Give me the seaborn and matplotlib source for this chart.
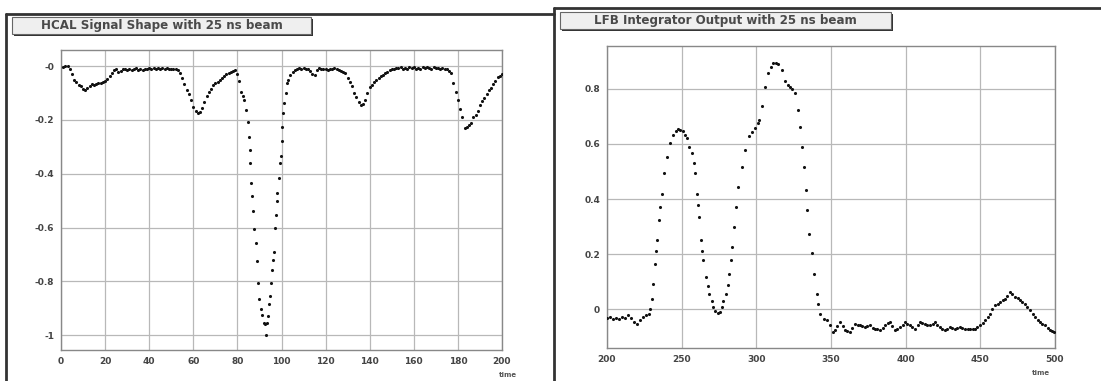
import matplotlib
matplotlib.use('Agg')
import matplotlib.pyplot as plt
import seaborn as sns
import pandas as pd
from matplotlib.patches import Rectangle
from matplotlib.lines import Line2D
from matplotlib.ticker import AutoMinorLocator, FixedLocator, FixedFormatter

# HCAL signal shape (left panel)
hcal_t = [1, 2, 3, 4, 5, 6, 7, 8, 9, 10, 11, 12, 13, 14, 15, 16, 17, 18, 19, 20,
          21, 22, 23, 24, 25, 26, 27, 28, 29, 30, 31, 32, 33, 34, 35, 36, 37, 38, 39, 40,
          41, 42, 43, 44, 45, 46, 47, 48, 49, 50, 51, 52, 53, 54, 55, 56, 57, 58, 59, 60,
          61, 62, 63, 64, 65, 66, 67, 68, 69, 70, 71, 72, 73, 74, 75, 76, 77, 78, 79, 80,
          80.8, 81.6, 82.4, 83.1, 83.7, 84.7, 85.3, 85.6, 85.9, 86.2, 86.8, 87.2, 87.7, 88.3,
          88.7, 89.2, 89.8, 90.7, 91.3, 92.2, 92.6, 92.8, 93.4, 94.0, 94.5, 94.8, 95.2, 95.8,
          96.2, 96.7, 96.9, 97.3, 97.8, 98.1, 98.9, 99.3, 99.6, 100.1, 100.4, 100.8, 101.2,
          101.9, 102.3, 102.8, 103.9, 105, 106, 107, 108, 109, 110, 111, 112, 113, 114, 115,
          116, 117, 118, 119, 120, 121, 122, 123, 124, 125, 126, 127, 128, 129, 130, 131, 132,
          133, 134, 135, 136, 137, 138, 139, 140, 141, 142, 143, 144, 145, 146, 147, 148, 149,
          150, 151, 152, 153, 154, 155, 156, 157, 158, 159, 160, 161, 162, 163, 164, 165, 166,
          167, 168, 169, 170, 171, 172, 173, 174, 175, 176, 177, 178, 179, 180, 181, 182, 183,
          184, 185, 186, 187, 188, 189, 190, 191, 192, 193, 194, 195, 196, 197, 198, 199, 200]
hcal_v = [-0.004, 0.000, 0.002, -0.010, -0.030, -0.050, -0.060, -0.070, -0.075, -0.085,
          -0.088, -0.080, -0.072, -0.068, -0.070, -0.066, -0.064, -0.062, -0.058, -0.055,
          -0.046, -0.035, -0.025, -0.015, -0.012, -0.020, -0.018, -0.010, -0.012, -0.016,
          -0.010, -0.014, -0.012, -0.008, -0.013, -0.010, -0.014, -0.009, -0.011, -0.006,
          -0.010, -0.008, -0.012, -0.007, -0.010, -0.006, -0.012, -0.008, -0.011, -0.009,
          -0.012, -0.010, -0.015, -0.025, -0.045, -0.065, -0.089, -0.105, -0.126, -0.150,
          -0.165, -0.175, -0.170, -0.155, -0.135, -0.110, -0.095, -0.085, -0.070, -0.063,
          -0.058, -0.050, -0.045, -0.038, -0.030, -0.026, -0.022, -0.018, -0.015, -0.030,
          -0.055, -0.095, -0.110, -0.126, -0.163, -0.206, -0.264, -0.310, -0.360, -0.435,
          -0.484, -0.540, -0.607, -0.657, -0.725, -0.805, -0.864, -0.904, -0.926, -0.953,
          -0.960, -1.000, -0.955, -0.928, -0.885, -0.854, -0.807, -0.758, -0.720, -0.690,
          -0.601, -0.552, -0.503, -0.470, -0.416, -0.360, -0.333, -0.280, -0.225, -0.175,
          -0.138, -0.100, -0.064, -0.050, -0.033, -0.020, -0.015, -0.012, -0.008, -0.010,
          -0.006, -0.009, -0.012, -0.018, -0.028, -0.033, -0.015, -0.008, -0.010, -0.012,
          -0.009, -0.013, -0.010, -0.012, -0.008, -0.011, -0.014, -0.018, -0.022, -0.027,
          -0.045, -0.060, -0.075, -0.100, -0.114, -0.135, -0.144, -0.140, -0.126, -0.100,
          -0.077, -0.070, -0.060, -0.052, -0.045, -0.038, -0.033, -0.025, -0.020, -0.015,
          -0.009, -0.010, -0.006, -0.008, -0.004, -0.009, -0.006, -0.010, -0.005, -0.008,
          -0.003, -0.009, -0.006, -0.011, -0.004, -0.008, -0.002, -0.007, -0.010, -0.005,
          -0.008, -0.006, -0.010, -0.007, -0.010, -0.012, -0.018, -0.027, -0.064, -0.095,
          -0.126, -0.160, -0.190, -0.231, -0.225, -0.219, -0.210, -0.190, -0.180, -0.165,
          -0.145, -0.130, -0.120, -0.105, -0.090, -0.080, -0.068, -0.055, -0.042, -0.035,
          -0.030]

# LFB integrator output (right panel)
lfb_t = [200, 202, 204, 206, 208, 210, 212, 214, 216, 218, 220, 222, 224, 226, 228, 229,
         229.9, 231, 232.1, 233, 233.7, 235, 235.8, 236.6, 238.2, 240, 242.2, 244.4, 246,
         247.8, 249, 250.7, 252, 253.8, 255, 256.7, 258, 258.9, 260.1, 261, 261.6, 262.7,
         263.5, 264.5, 266.3, 267.5, 268.5, 270, 271.2, 272.5, 274.5, 275.5, 276.8, 278,
         279.7, 281, 281.9, 283, 283.5, 285, 286.4, 287.9, 290.2, 292.4, 295.3, 297, 299.1,
         301, 302, 303.6, 305.8, 308, 310, 311.4, 313, 314.7, 317, 319.2, 321, 322.5, 324,
         325.9, 328.1, 329.2, 330.4, 331.9, 333.3, 334.1, 335.5, 337.1, 338.6, 340.4, 341.5,
         342.6, 345, 347.1, 349.3, 351.5, 352.7, 354, 356, 358, 359.4, 361, 362.7, 364, 366,
         368, 369.4, 371, 372.7, 374, 376, 378, 379.4, 381, 382.8, 384.5, 386.1, 388, 389.5,
         391, 392.8, 394.5, 396.2, 398, 399.5, 401, 402.9, 404.5, 406.2, 408, 409.6, 411,
         412.9, 414.5, 416.3, 418, 419.6, 421, 423, 424.5, 426.3, 428, 429.7, 431, 433,
         434.5, 436.4, 438, 439.7, 441.5, 443.1, 444.8, 446.4, 448, 449.8, 451.5, 453.1, 455,
         456.5, 458, 459.8, 461.5, 463.2, 465, 466.5, 468, 469.9, 471.5, 473.2, 475, 476.6,
         478, 479.9, 481.5, 483.3, 485, 486.6, 488.5, 490, 491.5, 493.3, 495, 496.7, 498, 499]
lfb_v = [-0.030, -0.028, -0.036, -0.030, -0.034, -0.026, -0.030, -0.022, -0.032, -0.044,
         -0.052, -0.040, -0.028, -0.022, -0.016, 0.000, 0.039, 0.093, 0.166, 0.210, 0.251,
         0.324, 0.370, 0.420, 0.493, 0.554, 0.602, 0.633, 0.648, 0.653, 0.652, 0.645, 0.632,
         0.621, 0.590, 0.566, 0.530, 0.493, 0.420, 0.380, 0.336, 0.251, 0.210, 0.178, 0.117,
         0.085, 0.057, 0.030, 0.008, -0.005, -0.013, -0.008, 0.008, 0.030, 0.057, 0.090,
         0.130, 0.180, 0.227, 0.299, 0.372, 0.445, 0.517, 0.578, 0.627, 0.643, 0.657, 0.675,
         0.687, 0.736, 0.808, 0.857, 0.880, 0.893, 0.895, 0.891, 0.869, 0.827, 0.815, 0.808,
         0.798, 0.784, 0.724, 0.663, 0.590, 0.517, 0.433, 0.360, 0.275, 0.203, 0.130, 0.057,
         0.020, -0.016, -0.035, -0.040, -0.058, -0.083, -0.076, -0.062, -0.046, -0.060,
         -0.076, -0.080, -0.083, -0.066, -0.052, -0.055, -0.058, -0.060, -0.064, -0.060,
         -0.058, -0.066, -0.070, -0.072, -0.076, -0.066, -0.058, -0.050, -0.046, -0.062,
         -0.076, -0.070, -0.064, -0.055, -0.046, -0.052, -0.058, -0.064, -0.070, -0.058,
         -0.046, -0.050, -0.052, -0.055, -0.058, -0.052, -0.046, -0.055, -0.064, -0.070,
         -0.076, -0.070, -0.064, -0.067, -0.070, -0.067, -0.064, -0.067, -0.070, -0.070,
         -0.070, -0.070, -0.070, -0.064, -0.058, -0.050, -0.040, -0.028, -0.016, 0.000,
         0.015, 0.021, 0.027, 0.033, 0.039, 0.050, 0.063, 0.055, 0.045, 0.040, 0.033, 0.027,
         0.021, 0.008, -0.004, -0.016, -0.028, -0.038, -0.046, -0.052, -0.058, -0.066,
         -0.076, -0.080, -0.083]

hcal_title = "HCAL Signal Shape with 25 ns beam"
lfb_title = "LFB Integrator Output with 25 ns beam"
hcal_xticks = [0, 20, 40, 60, 80, 100, 120, 140, 160, 180, 200]
hcal_yticks = [0, -0.2, -0.4, -0.6, -0.8, -1]
hcal_ylabels = ['-0', '-0.2', '-0.4', '-0.6', '-0.8', '-1']
lfb_xticks = [200, 250, 300, 350, 400, 450, 500]
lfb_yticks = [0, 0.2, 0.4, 0.6, 0.8]
lfb_ylabels = ['0', '0.2', '0.4', '0.6', '0.8']

sns.set_style('white')
plt.rcParams['font.family'] = ['DejaVu Sans']

W, H = 1101, 381
fig = plt.figure(figsize=(W / 100, H / 100), dpi=100)


def px_rect(x0, y0, x1, y1):
    # pixel box (top-left origin) -> figure fraction [l, b, w, h]
    return [x0 / W, 1 - y1 / H, (x1 - x0) / W, (y1 - y0) / H]


def style_axis(ax, xticks, yticks, ylabels):
    ax.xaxis.set_major_locator(FixedLocator(xticks))
    ax.yaxis.set_major_locator(FixedLocator(yticks))
    ax.yaxis.set_major_formatter(FixedFormatter(ylabels))
    ax.xaxis.set_minor_locator(AutoMinorLocator(5))
    ax.yaxis.set_minor_locator(AutoMinorLocator(5))
    ax.tick_params(which='major', direction='in', length=7, width=0.8, color='#777777',
                   labelsize=6.5, labelcolor='#444444', pad=5)
    ax.tick_params(which='minor', direction='in', length=3.5, width=0.8, color='#777777')
    ax.grid(True, which='major', color='#b8b8b8', linewidth=0.9)
    for s in ax.spines.values():
        s.set_color('#888888')
        s.set_linewidth(1.0)
    ax.set_xlabel('')
    ax.set_ylabel('')
    for lab in ax.get_xticklabels() + ax.get_yticklabels():
        lab.set_fontweight('bold')


ax1 = fig.add_axes(px_rect(61, 50, 502, 350))
df1 = pd.DataFrame({'t': hcal_t, 'v': hcal_v})
sns.scatterplot(data=df1, x='t', y='v', ax=ax1, s=5, color='#111111', edgecolor=None,
                linewidth=0, zorder=3)
ax1.set_xlim(0, 200)
ax1.set_ylim(-1.055, 0.06)
style_axis(ax1, hcal_xticks, hcal_yticks, hcal_ylabels)

ax2 = fig.add_axes(px_rect(607, 46, 1055, 348))
df2 = pd.DataFrame({'t': lfb_t, 'v': lfb_v})
sns.scatterplot(data=df2, x='t', y='v', ax=ax2, s=5, color='#111111', edgecolor=None,
                linewidth=0, zorder=3)
ax2.set_xlim(200, 500)
ax2.set_ylim(-0.14, 0.955)
style_axis(ax2, lfb_xticks, lfb_yticks, lfb_ylabels)

# pad frames
def fline(x0, y0, x1, y1, lw=2.0, c='#333333'):
    fig.add_artist(Line2D([x0 / W, x1 / W], [1 - y0 / H, 1 - y1 / H], color=c,
                          linewidth=lw, transform=fig.transFigure))

fline(6, 14, 554, 14)
fline(6, 14, 6, 381)
fline(554, 8, 1101, 8)
fline(554, 8, 554, 381)


# title boxes with shadow
def title_box(x0, y0, x1, y1, text):
    l, b, w, h = px_rect(x0 + 2, y0 + 2, x1 + 2, y1 + 2)
    fig.add_artist(Rectangle((l, b), w, h, transform=fig.transFigure,
                             facecolor='#333333', edgecolor='none'))
    l, b, w, h = px_rect(x0, y0, x1, y1)
    fig.add_artist(Rectangle((l, b), w, h, transform=fig.transFigure,
                             facecolor='#efefef', edgecolor='#666666', linewidth=0.8))
    fig.text(l + w / 2, b + h / 2, text, ha='center', va='center', fontsize=8.6,
             fontweight='bold', color='#4a4a4a')

title_box(12, 17, 311, 34, hcal_title)
title_box(560, 12, 891, 29, lfb_title)

fig.text(517 / W, 1 - 375 / H, 'time', ha='right', va='center', fontsize=5,
         fontweight='bold', color='#555555')
fig.text(1050 / W, 1 - 373 / H, 'time', ha='right', va='center', fontsize=5,
         fontweight='bold', color='#555555')

fig.savefig('out.png', dpi=100)
